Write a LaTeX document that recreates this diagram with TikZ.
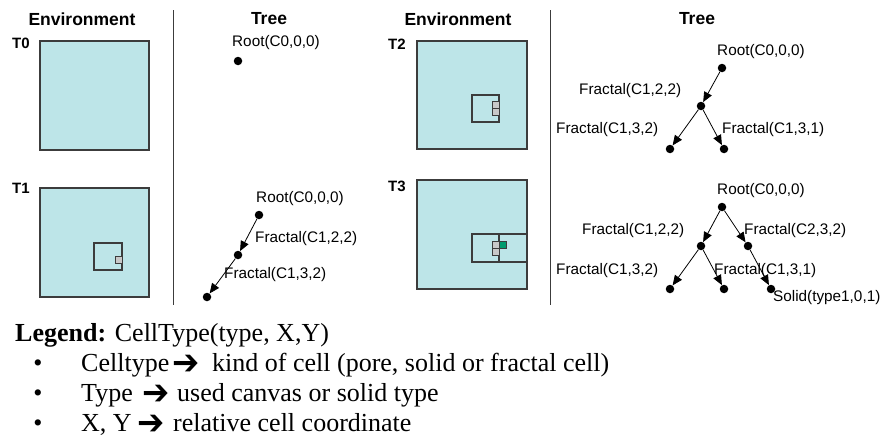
\documentclass[tikz,border=0pt]{standalone}
\usepackage{fontspec}
\usepackage{graphicx}
\setmainfont{Liberation Serif}
\setsansfont{Liberation Sans}
\newfontfamily\arrowfont{DejaVu Sans}
\usetikzlibrary{arrows.meta}
\definecolor{envfill}{RGB}{189,229,232}
\definecolor{edgegray}{RGB}{60,60,60}
\definecolor{cellgray}{RGB}{200,200,200}
\definecolor{cellgreen}{RGB}{0,155,110}
\newcommand{\legarr}{\scalebox{1.3}[1.4]{➔}}
\tikzset{
  heading/.style={font=\sffamily\bfseries\fontsize{17.5}{18}\selectfont, inner sep=0},
  tlabel/.style={font=\sffamily\bfseries\fontsize{15}{16}\selectfont, anchor=west, inner sep=0},
  treelabel/.style={font=\sffamily\fontsize{15.3}{16}\selectfont, anchor=west, inner sep=0},
  dot/.style={circle, fill=black, minimum size=8.5pt, inner sep=0},
  edge/.style={-{Triangle[length=10pt,width=8.5pt]}, line width=0.8pt},
  envbox/.style={draw=edgegray, fill=envfill, line width=1.1pt},
  innerbox/.style={draw=edgegray, line width=1.1pt},
  graycell/.style={draw=edgegray, fill=cellgray, line width=0.9pt},
  greencell/.style={draw=edgegray, fill=cellgreen, line width=0.9pt},
  divider/.style={draw=edgegray, line width=1pt},
  legtext/.style={font=\fontsize{26}{30}\selectfont, anchor=base west, inner sep=0},
  legbullet/.style={font=\fontsize{26}{30}\selectfont, anchor=base, inner sep=0},
  legarrow/.style={font=\arrowfont\bfseries\fontsize{25}{26}\selectfont, anchor=west, inner sep=0},
}
\begin{document}
\begin{tikzpicture}[x=1pt,y=-1pt]
\useasboundingbox[fill=white] (0,0) rectangle (883,439);

% headings
\node[heading] (henv1) at (82,19) {Environment};
\node[heading] (htree1) at (269,19) {Tree};
\node[heading] (henv2) at (458,19) {Environment};
\node[heading] (htree2) at (697,19) {Tree};

% dividers
\coordinate (d1a) at (173,10); \coordinate (d1b) at (173,305);
\coordinate (d2a) at (550,10); \coordinate (d2b) at (550,305);
\draw[divider] (d1a) -- (d1b);
\draw[divider] (d2a) -- (d2b);

% time labels
\node[tlabel] (t0) at (12,43) {T0};
\node[tlabel] (t1) at (12,188) {T1};
\node[tlabel] (t2) at (388,44) {T2};
\node[tlabel] (t3) at (388,186) {T3};

% environment T0
\draw[envbox] (40,41) rectangle (149,150);
% environment T1
\draw[envbox] (40,188) rectangle (149,297);
\draw[innerbox] (94,243) rectangle (122,270);
\draw[graycell] (115,256.5) rectangle (122,263.5);
% environment T2
\draw[envbox] (417,41) rectangle (527,149);
\draw[innerbox] (472,95) rectangle (499,122);
\draw[graycell] (492,101) rectangle (499,108);
\draw[graycell] (492,108) rectangle (499,115);
% environment T3
\draw[envbox] (417,180) rectangle (527,289);
\draw[innerbox] (472,234) rectangle (499,262);
\draw[innerbox] (499,234) rectangle (527,262);
\draw[graycell] (492,241) rectangle (499,248);
\draw[graycell] (492,248) rectangle (499,255);
\draw[greencell] (499,241) rectangle (506,248);

% tree T0
\node[treelabel] (l0r) at (232,43) {Root(C0,0,0)};
\node[dot] (n0r) at (238,61) {};

% tree T1
\node[treelabel] (l1r) at (256,199) {Root(C0,0,0)};
\node[dot] (n1r) at (259,215) {};
\node[treelabel] (l1a) at (255,239) {Fractal(C1,2,2)};
\node[dot] (n1a) at (238,255) {};
\node[treelabel] (l1b) at (224,275) {Fractal(C1,3,2)};
\node[dot] (n1b) at (207,297) {};
\draw[edge] (n1r) -- (n1a);
\draw[edge] (n1a) -- (n1b);

% tree T2
\node[treelabel] (l2r) at (717,52) {Root(C0,0,0)};
\node[dot] (n2r) at (722,68) {};
\node[treelabel] (l2a) at (579,91) {Fractal(C1,2,2)};
\node[dot] (n2a) at (701,106) {};
\node[treelabel] (l2b) at (556,130) {Fractal(C1,3,2)};
\node[treelabel] (l2c) at (722,130) {Fractal(C1,3,1)};
\node[dot] (n2b) at (670,149) {};
\node[dot] (n2c) at (724,149) {};
\draw[edge] (n2r) -- (n2a);
\draw[edge] (n2a) -- (n2b);
\draw[edge] (n2a) -- (n2c);

% tree T3
\node[treelabel] (l3r) at (717,191) {Root(C0,0,0)};
\node[dot] (n3r) at (722,207) {};
\node[treelabel] (l3a) at (582,231) {Fractal(C1,2,2)};
\node[treelabel] (l3d) at (744,231) {Fractal(C2,3,2)};
\node[dot] (n3a) at (701,246) {};
\node[dot] (n3d) at (748,246) {};
\node[treelabel] (l3b) at (556,271) {Fractal(C1,3,2)};
\node[treelabel] (l3c) at (714,271) {Fractal(C1,3,1)};
\node[dot] (n3b) at (670,289) {};
\node[dot] (n3c) at (724,289) {};
\node[dot] (n3e) at (771,289) {};
\node[treelabel] (l3e) at (773,298) {Solid(type1,0,1)};
\draw[edge] (n3r) -- (n3a);
\draw[edge] (n3r) -- (n3d);
\draw[edge] (n3a) -- (n3b);
\draw[edge] (n3a) -- (n3c);
\draw[edge] (n3d) -- (n3e);

% legend
\node[legtext] (leg) at (15,341) {\textbf{Legend:} CellType(type, X,Y)};
\node[legbullet] (b1) at (38,371) {•};
\node[legbullet] (b2) at (38,401) {•};
\node[legbullet] (b3) at (38,431) {•};
\node[legtext] (c1) at (81,371) {Celltype};
\node[legarrow] (a1) at (172,365) {\legarr};
\node[legtext] (e1) at (212,371) {kind of cell (pore, solid or fractal cell)};
\node[legtext] (c2) at (81,401) {Type};
\node[legarrow] (a2) at (142,395) {\legarr};
\node[legtext] (e2) at (177,401) {used canvas or solid type};
\node[legtext] (c3) at (81,431) {X, Y};
\node[legarrow] (a3) at (137,425) {\legarr};
\node[legtext] (e3) at (173,431) {relative cell coordinate};
\end{tikzpicture}
\end{document}
